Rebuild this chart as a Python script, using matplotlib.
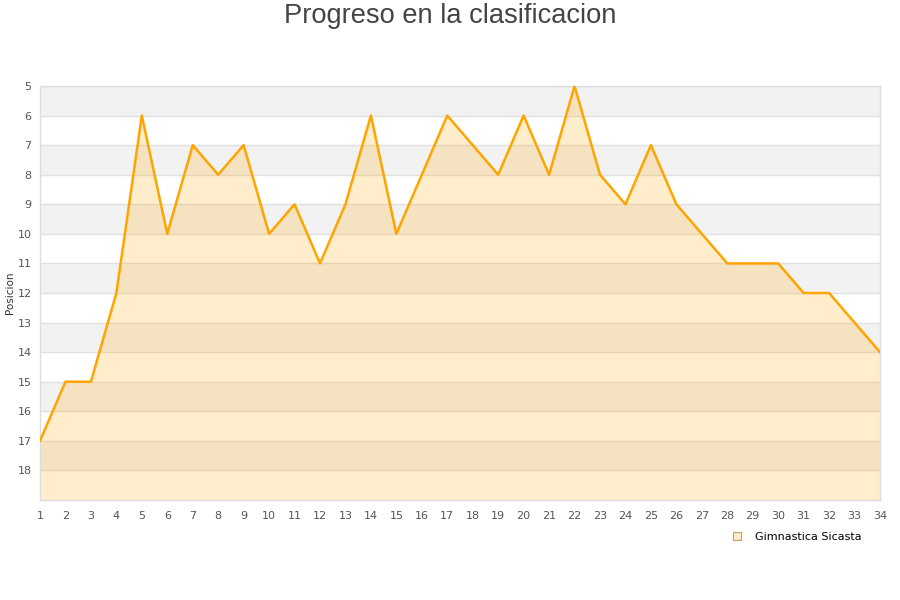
import matplotlib
matplotlib.use("Agg")
import matplotlib.pyplot as plt
from matplotlib.lines import Line2D

rounds = list(range(1, 35))
positions = [17, 15, 15, 12, 6, 10, 7, 8, 7, 10, 9, 11, 9, 6, 10, 8, 6, 7, 8, 6,
             8, 5, 8, 9, 7, 9, 10, 11, 11, 11, 12, 12, 13, 14]
team = "Gimnastica Sicasta"
title = "Progreso en la clasificacion"
ylabel = "Posicion"
yticks = list(range(5, 19))

fig = plt.figure(figsize=(9, 6), dpi=100)
ax = fig.add_axes([40/900, 1-500/600, 840/900, 414/600])

ymin, ymax = 5, 19
# alternating bands
for y0 in range(5, 19, 2):
    ax.axhspan(y0, y0 + 1, color="#f2f2f2", zorder=0, lw=0)
for y in range(5, 19):
    ax.axhline(y, color="#e0e0e0", lw=1, zorder=1)

ax.fill_between(rounds, positions, ymax, color="#ffa500", alpha=0.2, lw=0, zorder=2)
ax.plot(rounds, positions, color="#ffa500", lw=1.8, zorder=3)

ax.set_xlim(1, 34)
ax.set_ylim(ymax, ymin)
ax.set_xticks(rounds)
ax.set_yticks(yticks)
ax.tick_params(axis="both", length=0, labelsize=8, colors="#555555", pad=6)
ax.tick_params(axis="x", pad=8)
for s in ax.spines.values():
    s.set_color("#dddddd")
    s.set_linewidth(1)

fig.text(10/900, 1-293/600, ylabel, rotation=90, ha="center", va="center", fontsize=7.5, color="#333333")
fig.text(0.5, 1-16/600, title, ha="center", va="center", fontsize=19.6, color="#444444",
         family="Liberation Sans")

handle = Line2D([], [], marker="s", linestyle="none", markersize=6,
                markerfacecolor="#ffedcc", markeredgecolor="#c8a060", markeredgewidth=0.8)
fig.legend([handle], [team], loc="center right", bbox_to_anchor=(866/900, 1-537/600),
           frameon=False, fontsize=8, handletextpad=0.6, borderaxespad=0)

fig.savefig("out.png", dpi=100)
